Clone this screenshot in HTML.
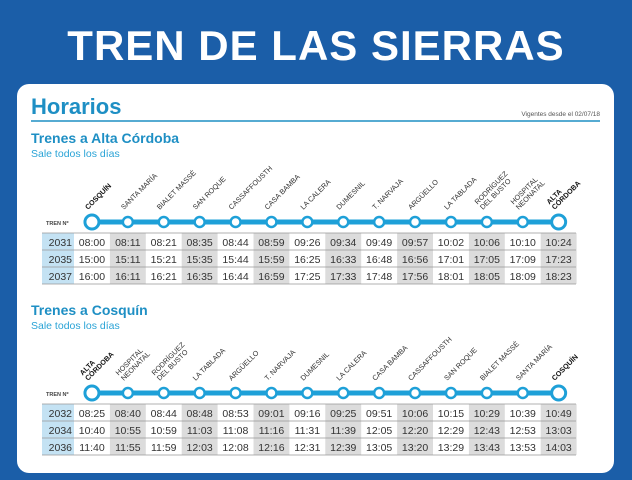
<!DOCTYPE html>
<html><head><meta charset="utf-8"><style>
body{margin:0;width:632px;height:480px;overflow:hidden;background:#1b5ea8;}
svg{display:block}
text{font-family:"Liberation Sans",sans-serif}
</style></head><body>
<svg width="632" height="480" viewBox="0 0 632 480">
<rect width="632" height="480" fill="#1b5ea8"/>
<text x="316" y="60" text-anchor="middle" font-size="42" font-weight="bold" fill="#fff" letter-spacing="1">TREN DE LAS SIERRAS</text>
<rect x="17" y="84" width="597" height="389" rx="12" fill="#fff"/>
<text x="31" y="114" font-size="22" font-weight="bold" fill="#1e8fc4">Horarios</text>
<line x1="31" y1="121" x2="600" y2="121" stroke="#1e8fc4" stroke-width="1.5"/>
<text x="600" y="116" text-anchor="end" font-size="6.5" fill="#555">Vigentes desde el 02/07/18</text>
<text x="31" y="143" font-size="14" font-weight="bold" fill="#1e8fc4">Trenes a Alta Córdoba</text>
<text x="31" y="157" font-size="10.5" fill="#29a3d6">Sale todos los días</text>
<text x="31" y="315" font-size="14" font-weight="bold" fill="#1e8fc4">Trenes a Cosquín</text>
<text x="31" y="329" font-size="10.5" fill="#29a3d6">Sale todos los días</text>
<g id="tables"></g>
</svg>
<script>
const NS="http://www.w3.org/2000/svg";
const g=document.getElementById('tables');
function el(t,a,txt){const e=document.createElementNS(NS,t);for(const k in a)e.setAttribute(k,a[k]);if(txt!==undefined)e.textContent=txt;g.appendChild(e);return e;}
const st1=["COSQUÍN","SANTA MARÍA","BIALET MASSÉ","SAN ROQUE","CASSAFFOUSTH","CASA BAMBA","LA CALERA","DUMESNIL","T. NARVAJA","ARGÜELLO","LA TABLADA","RODRÍGUEZ|DEL BUSTO","HOSPITAL|NEONATAL","ALTA|CÓRDOBA"];
const st2=st1.slice().reverse();
const d1=[["2031","08:00 08:11 08:21 08:35 08:44 08:59 09:26 09:34 09:49 09:57 10:02 10:06 10:10 10:24"],
["2035","15:00 15:11 15:21 15:35 15:44 15:59 16:25 16:33 16:48 16:56 17:01 17:05 17:09 17:23"],
["2037","16:00 16:11 16:21 16:35 16:44 16:59 17:25 17:33 17:48 17:56 18:01 18:05 18:09 18:23"]];
const d2=[["2032","08:25 08:40 08:44 08:48 08:53 09:01 09:16 09:25 09:51 10:06 10:15 10:29 10:39 10:49"],
["2034","10:40 10:55 10:59 11:03 11:08 11:16 11:31 11:39 12:05 12:20 12:29 12:43 12:53 13:03"],
["2036","11:40 11:55 11:59 12:03 12:08 12:16 12:31 12:39 13:05 13:20 13:29 13:43 13:53 14:03"]];
const x0=74,cw=35.9;
function table(st,data,cy,ty){
 el('text',{x:46,y:cy+3,'font-size':5.5,'font-weight':'bold',fill:'#444'},'TREN Nº');
 el('line',{x1:92,y1:cy,x2:559,y2:cy,stroke:'#1ea0d8','stroke-width':5});
 st.forEach((s,i)=>{
  const cx=x0+cw*i+cw/2;
  const big=(i==0||i==13);
  el('circle',{cx:cx,cy:cy,r:big?7:5,fill:'#fff',stroke:'#1ea0d8','stroke-width':big?3:2.5});
  const parts=s.split('|');
  const t=el('text',{transform:`translate(${cx-4},${cy-12}) rotate(-45)`,'font-size':7.2,fill:big?'#111':'#333','font-weight':big?'bold':'normal'});
  parts.forEach((p,j)=>{const ts=document.createElementNS(NS,'tspan');ts.setAttribute('x',0);ts.setAttribute('y',(j-parts.length+1)*7.5);ts.textContent=p;t.appendChild(ts);});
 });
 for(let i=0;i<14;i++){if(i%2==1)el('rect',{x:x0+cw*i,y:ty,width:cw,height:51,fill:'#dcdcdc'});}
 el('rect',{x:42,y:ty,width:32,height:51,fill:'#c4e2f3'});
 data.forEach((r,k)=>{
  const y=ty+17*k;
  el('line',{x1:42,y1:y+17,x2:576,y2:y+17,stroke:'#999','stroke-width':0.8});
  el('text',{x:72,y:y+13,'text-anchor':'end','font-size':10.5,fill:'#333'},r[0]);
  r[1].split(' ').forEach((v,i)=>el('text',{x:x0+cw*i+cw/2,y:y+13,'text-anchor':'middle','font-size':10.5,fill:'#333'},v));
 });
 el('line',{x1:42,y1:ty,x2:576,y2:ty,stroke:'#999','stroke-width':0.8});
}
table(st1,d1,222,233);
table(st2,d2,393,404);
</script>
</body></html>
